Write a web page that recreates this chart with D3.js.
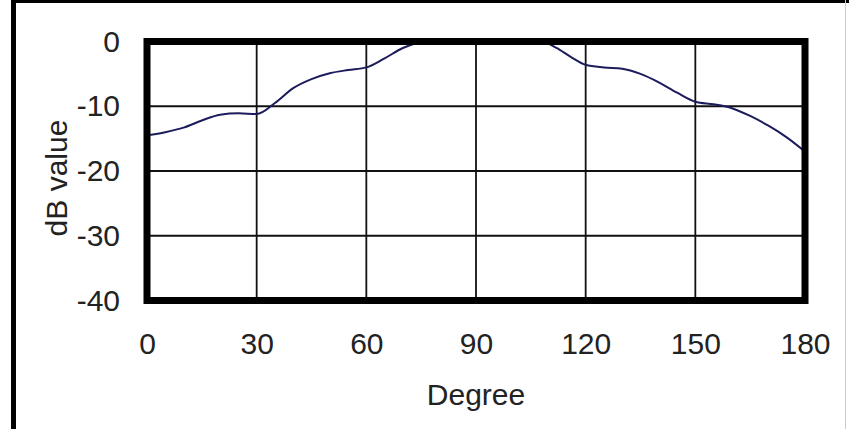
<!DOCTYPE html>
<html>
<head>
<meta charset="utf-8">
<script src="https://cdn.jsdelivr.net/npm/d3@7"></script>
<style>
  body { margin: 0; background: #fff; }
  text { font-family: "Liberation Sans", Arial, sans-serif; fill: #222; }
</style>
</head>
<body>
<div id="chart"></div>
<script>
// data
var degrees = [0, 5, 10, 15, 20, 25, 30, 35, 40, 45, 50, 55, 60, 65, 70, 75, 80, 90, 100, 108, 112, 116, 120, 125, 130, 135, 140, 145, 150, 155, 160, 165, 170, 175, 180];
var dbValues = [-14.5, -14, -13.3, -12.2, -11.3, -11.1, -11.2, -9.5, -7.2, -5.8, -4.9, -4.4, -4, -2.6, -1, -0.1, 0, 0, 0, 0, -1, -2.4, -3.6, -4, -4.2, -5, -6.3, -7.9, -9.3, -9.7, -10.3, -11.5, -13, -14.8, -17];
var xTicks = [0, 30, 60, 90, 120, 150, 180];
var yTicks = [0, -10, -20, -30, -40];

var svgWidth = 849;
var svgHeight = 429;

var plot = { left: 147, right: 805, top: 41.5, bottom: 300.5 };

var svg = d3.select("#chart").append("svg").attr("width", svgWidth).attr("height", svgHeight);

// outer frame
svg.append("line").attr("x1", 13.5).attr("x2", 13.5).attr("y1", 0).attr("y2", svgHeight)
  .attr("stroke", "#000").attr("stroke-width", 5);
svg.append("line").attr("x1", 11).attr("x2", svgWidth).attr("y1", 1.5).attr("y2", 1.5)
  .attr("stroke", "#000").attr("stroke-width", 3);
svg.append("line").attr("x1", 845.5).attr("x2", 845.5).attr("y1", 0).attr("y2", svgHeight)
  .attr("stroke", "#ccc").attr("stroke-width", 1);

var xScale = d3.scaleLinear().domain([0, 180]).range([plot.left, plot.right]);
var yScale = d3.scaleLinear().domain([-40, 0]).range([plot.bottom, plot.top]);

// grid
svg.append("g").selectAll("line").data(xTicks).enter()
  .append("line")
  .attr("x1", d => xScale(d)).attr("x2", d => xScale(d))
  .attr("y1", plot.top).attr("y2", plot.bottom)
  .attr("stroke", "#111").attr("stroke-width", 1.8);

svg.append("g").selectAll("line").data(yTicks).enter()
  .append("line")
  .attr("x1", plot.left).attr("x2", plot.right)
  .attr("y1", d => yScale(d)).attr("y2", d => yScale(d))
  .attr("stroke", "#111").attr("stroke-width", 1.8);

// curve
var line = d3.line()
  .x(d => xScale(d[0]))
  .y(d => yScale(d[1]))
  .curve(d3.curveMonotoneX);

svg.append("path")
  .datum(degrees.map((d, i) => [d, dbValues[i]]))
  .attr("d", line)
  .attr("fill", "none")
  .attr("stroke", "#1c1c5c")
  .attr("stroke-width", 2);

// plot frame
svg.append("rect")
  .attr("x", plot.left).attr("y", plot.top)
  .attr("width", plot.right - plot.left).attr("height", plot.bottom - plot.top)
  .attr("fill", "none").attr("stroke", "#000").attr("stroke-width", 7);

// axes (labels only)
var bottomAxis = d3.axisBottom(xScale).tickValues(xTicks).tickSize(0).tickPadding(0);
var leftAxis = d3.axisLeft(yScale).tickValues(yTicks).tickSize(0).tickPadding(0)
  .tickFormat(d => String(d));

var gx = svg.append("g").attr("transform", "translate(0, 333)").call(bottomAxis);
var gy = svg.append("g").attr("transform", "translate(120, 0)").call(leftAxis);

[gx, gy].forEach(function(g) {
  g.select(".domain").remove();
  g.selectAll("text")
    .attr("font-size", "30px")
    .attr("font-family", "Liberation Sans, Arial, sans-serif")
    .attr("fill", "#222");
});

// axis titles
svg.append("text")
  .attr("x", (plot.left + plot.right) / 2)
  .attr("y", 405)
  .attr("text-anchor", "middle")
  .attr("font-size", "30px")
  .text("Degree");

svg.append("text")
  .attr("transform", "translate(67, 178) rotate(-90)")
  .attr("text-anchor", "middle")
  .attr("font-size", "30px")
  .text("dB value");
</script>
</body>
</html>
